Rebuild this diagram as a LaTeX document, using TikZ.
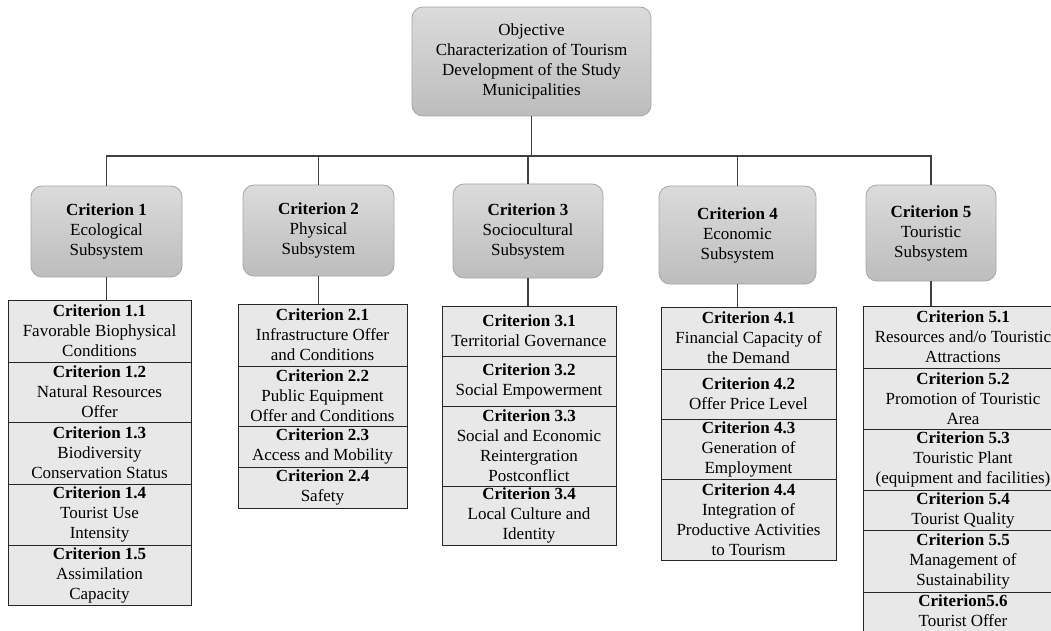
\documentclass[tikz,border=0pt]{standalone}
\usepackage{fontspec}
\setmainfont{Liberation Serif}
\begin{document}
\begin{tikzpicture}[x=1pt,y=-1pt,
  every node/.style={font=\fontsize{17}{20}\selectfont, align=center, inner sep=0pt},
  crit/.style={rounded corners=11pt, draw=black!35, line width=0.8pt, top color=gray!28, bottom color=gray!52},
  row/.style={draw=black!85, fill=gray!18, line width=0.9pt},
  conn/.style={draw=black!75, line width=1.1pt}]
\useasboundingbox (0,0) rectangle (1051,631);
\clip (0,0) rectangle (1051,631);

% top
\node[crit, minimum width=239, minimum height=109] (top) at (531.5,61.5)
  {Objective\\Characterization of Tourism\\Development of the Study\\Municipalities};

% criteria
\node[crit, minimum width=151, minimum height=91] (c1) at (106.5,231.5) {\textbf{Criterion 1}\\Ecological\\Subsystem};
\node[crit, minimum width=151, minimum height=91] (c2) at (318.5,230.5) {\textbf{Criterion 2}\\Physical\\Subsystem};
\node[crit, minimum width=150, minimum height=94] (c3) at (528,231) {\textbf{Criterion 3}\\Sociocultural\\Subsystem};
\node[crit, minimum width=157, minimum height=98] (c4) at (737.5,235) {\textbf{Criterion 4}\\Economic\\Subsystem};
\node[crit, minimum width=130, minimum height=96] (c5) at (931,233) {\textbf{Criterion 5}\\Touristic\\Subsystem};

\coordinate (hub) at (533,156);
\draw[conn] (top.south) -- (top.south |- hub);
\draw[conn] (c1.north) |- (hub) -| (c5.north);
\draw[conn] (c2.north) -- (c2.north |- hub);
\draw[conn] (c3.north) -- (c3.north |- hub);
\draw[conn] (c4.north) -- (c4.north |- hub);

% stack 1
\node[row, minimum width=183, minimum height=62] (r11) at (99.5,331) {\textbf{Criterion 1.1}\\Favorable Biophysical\\Conditions};
\node[row, minimum width=183, minimum height=60] (r12) at (99.5,392) {\textbf{Criterion 1.2}\\Natural Resources\\Offer};
\node[row, minimum width=183, minimum height=62] (r13) at (99.5,453) {\textbf{Criterion 1.3}\\Biodiversity\\Conservation Status};
\node[row, minimum width=183, minimum height=61] (r14) at (99.5,514.5) {\textbf{Criterion 1.4}\\Tourist Use\\Intensity};
\node[row, minimum width=183, minimum height=60] (r15) at (99.5,575) {\textbf{Criterion 1.5}\\Assimilation\\Capacity};

% stack 2
\node[row, minimum width=169, minimum height=62] (r21) at (322.5,335) {\textbf{Criterion 2.1}\\Infrastructure Offer\\and Conditions};
\node[row, minimum width=169, minimum height=60] (r22) at (322.5,396) {\textbf{Criterion 2.2}\\Public Equipment\\Offer and Conditions};
\node[row, minimum width=169, minimum height=41] (r23) at (322.5,446.5) {\textbf{Criterion 2.3}\\Access and Mobility};
\node[row, minimum width=169, minimum height=41] (r24) at (322.5,487.5) {\textbf{Criterion 2.4}\\Safety};

% stack 3
\node[row, minimum width=174, minimum height=50] (r31) at (529,331) {\textbf{Criterion 3.1}\\Territorial Governance};
\node[row, minimum width=174, minimum height=50] (r32) at (529,381) {\textbf{Criterion 3.2}\\Social Empowerment};
\node[row, minimum width=174, minimum height=80] (r33) at (529,446) {\textbf{Criterion 3.3}\\Social and Economic\\Reintergration\\Postconflict};
\node[row, minimum width=174, minimum height=59] (r34) at (529,515.5) {\textbf{Criterion 3.4}\\Local Culture and\\Identity};

% stack 4
\node[row, minimum width=175, minimum height=62] (r41) at (748.5,338) {\textbf{Criterion 4.1}\\Financial Capacity of\\the Demand};
\node[row, minimum width=175, minimum height=50] (r42) at (748.5,394) {\textbf{Criterion 4.2}\\Offer Price Level};
\node[row, minimum width=175, minimum height=60] (r43) at (748.5,449) {\textbf{Criterion 4.3}\\Generation of\\Employment};
\node[row, minimum width=175, minimum height=81] (r44) at (748.5,519.5) {\textbf{Criterion 4.4}\\Integration of\\Productive Activities\\to Tourism};

% stack 5
\node[row, minimum width=200, minimum height=62] (r51) at (963,337) {\textbf{Criterion 5.1}\\Resources and/o Touristic\\Attractions};
\node[row, minimum width=200, minimum height=61] (r52) at (963,398.5) {\textbf{Criterion 5.2}\\Promotion of Touristic\\Area};
\node[row, minimum width=200, minimum height=61] (r53) at (963,459.5) {\textbf{Criterion 5.3}\\Touristic Plant\\(equipment and facilities)};
\node[row, minimum width=200, minimum height=40] (r54) at (963,510) {\textbf{Criterion 5.4}\\Tourist Quality};
\node[row, minimum width=200, minimum height=62] (r55) at (963,561) {\textbf{Criterion 5.5}\\Management of\\Sustainability};
\node[row, minimum width=200, minimum height=62, anchor=north] (r56) at (963,592) {\textbf{Criterion5.6}\\Tourist Offer\\\strut};

% lower connectors
\draw[conn] (c1.south) -- (c1.south |- r11.north);
\draw[conn] (c2.south) -- (c2.south |- r21.north);
\draw[conn] (c3.south) -- (c3.south |- r31.north);
\draw[conn] (c4.south) -- (c4.south |- r41.north);
\draw[conn] (c5.south) -- (c5.south |- r51.north);
\end{tikzpicture}
\end{document}
